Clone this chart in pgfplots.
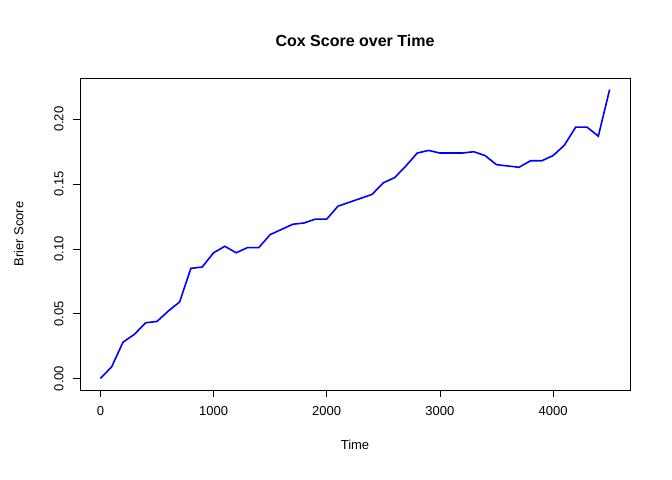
\documentclass[border=0pt]{standalone}
\usepackage{pgfplots}
\pgfplotsset{compat=1.18}
\usepackage{fontspec}
\setmainfont{Liberation Sans}
\begin{document}
\begin{tikzpicture}
\useasboundingbox (-80bp,-90bp) rectangle (592bp,390bp);
\begin{axis}[at={(0,0)},anchor=south west,scale only axis,width=550bp,height=312bp,
 xmin=-180,xmax=4680,ymin=-0.0089,ymax=0.2319,
 /pgf/number format/assume math mode=true,
 font=\fontsize{13bp}{15bp}\selectfont,
 tick align=outside, tick pos=left, major tick length=7bp,
 xtick={0,1000,...,4000}, ytick={0,0.05,0.1,0.15,0.2},
 yticklabel style={rotate=90,/pgf/number format/fixed,/pgf/number format/fixed zerofill,/pgf/number format/precision=2},
 xticklabel style={/pgf/number format/set thousands separator={}},
 xticklabel shift=6bp, yticklabel shift=6bp,
 scaled y ticks=false,
 title={\bfseries\fontsize{16bp}{18bp}\selectfont Cox Score over Time},
 title style={at={(0.5,1)},yshift=22bp,anchor=south},
 xlabel={Time}, ylabel={Brier Score},
 xlabel style={yshift=-18bp}, ylabel style={yshift=24bp},
 axis line style={line width=0.6bp}, every tick/.style={black,line width=0.6bp}]
\addplot[blue,line width=1.6bp] coordinates {
(0,0) (100,0.009) (200,0.028) (300,0.034) (400,0.043) (500,0.044) (600,0.052) (700,0.059)
(800,0.085) (900,0.086) (1000,0.097) (1100,0.102) (1200,0.097) (1300,0.101) (1400,0.101)
(1500,0.111) (1600,0.115) (1700,0.119) (1800,0.120) (1900,0.123) (2000,0.123) (2100,0.133)
(2200,0.136) (2300,0.139) (2400,0.142) (2500,0.151) (2600,0.155) (2700,0.164) (2800,0.174)
(2900,0.176) (3000,0.174) (3100,0.174) (3200,0.174) (3300,0.175) (3400,0.172) (3500,0.165)
(3600,0.164) (3700,0.163) (3800,0.168) (3900,0.168) (4000,0.172) (4100,0.180) (4200,0.194)
(4300,0.194) (4400,0.187) (4500,0.223)};
\end{axis}
\end{tikzpicture}
\end{document}
